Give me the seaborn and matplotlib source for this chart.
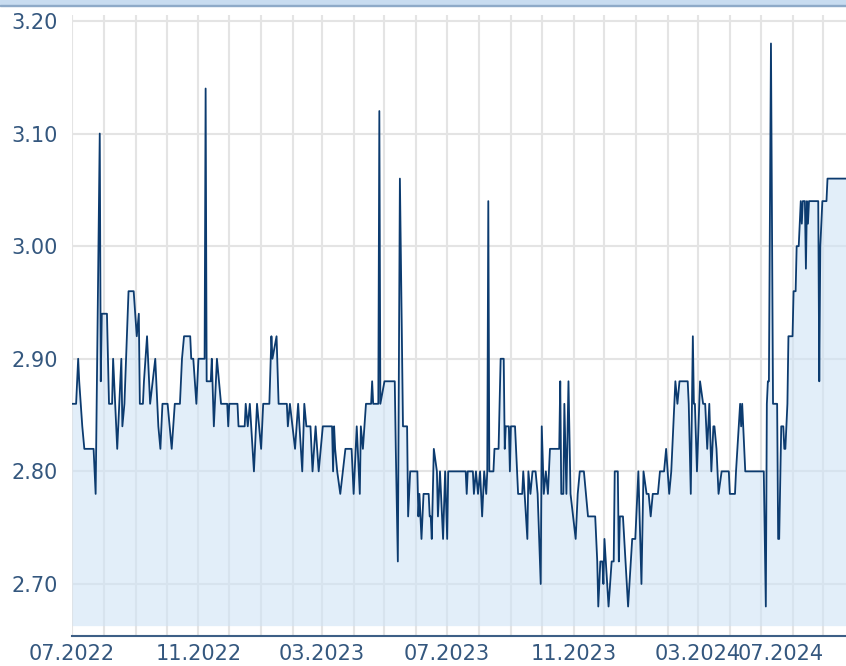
import pandas as pd
import matplotlib.pyplot as plt
import matplotlib.dates as mdates
from matplotlib.ticker import FormatStrFormatter
from matplotlib.patches import Rectangle
import seaborn as sns

# Series: days counted from the first point, and the value
start_date = "2022-07-01"

day_offset = [
    0, 4, 6, 7, 10, 12, 21, 23, 25, 27, 28, 29, 34, 36, 39, 40, 44, 46, 48, 49,
    51, 55, 60, 63, 65, 66, 69, 70, 73, 76, 81, 84, 86, 88, 93, 97, 100, 105, 107, 109,
    115, 116, 118, 121, 123, 129, 130, 131,
    135, 136, 138, 141, 145, 151, 152, 153, 161, 162, 168, 169, 171, 173, 177, 180, 184, 186, 192, 194,
    195, 199, 201, 209, 210, 212, 217, 220, 224, 226, 228, 232, 234, 237, 240, 244, 253, 254,
    255, 256, 258, 261, 266, 272, 274, 277, 280, 281, 283, 286, 291, 292, 293, 298, 299, 300, 304, 314,
    315, 317, 319, 322, 326, 327, 329, 336, 337, 338, 340, 342, 347, 348, 349, 350, 352, 355, 356, 358,
    361, 363, 365, 366, 383,
    384, 385, 390, 391, 393, 395, 397, 399, 401, 403, 404, 405, 406, 410, 411, 415, 417, 420, 421, 422,
    425, 426, 427, 431, 433, 434, 438, 439, 443, 444, 446, 448, 451, 453, 456, 457, 459, 461, 463, 465,
    474, 475, 476, 478, 479, 481, 483, 485, 490, 492, 494, 498, 502, 509,
    511, 512, 514, 516, 517, 518, 522, 525, 527, 528, 531, 532, 533, 536, 541, 545, 548, 551, 554, 556,
    559, 561, 563, 565, 570, 572, 576, 578, 581, 583, 587, 589, 591, 599, 600, 602, 604, 605, 606, 608,
    611, 614, 616, 618, 620, 622, 624, 625, 627, 629, 632, 636,
    639, 640, 645, 646, 650, 651, 652, 655, 673, 675, 676, 677, 678, 680, 682, 686, 687, 688, 690, 692,
    693, 694, 696, 697, 701, 702, 704, 705, 707, 708, 709, 710, 711, 713, 714, 715, 716, 717, 726, 727,
    728, 730, 734, 735, 753,
]

rate = [
    2.86, 2.86, 2.90, 2.88, 2.84, 2.82, 2.82, 2.78, 2.94, 3.10, 2.88, 2.94, 2.94, 2.86, 2.86, 2.90, 2.82, 2.86, 2.90, 2.84,
    2.86, 2.96, 2.96, 2.92, 2.94, 2.86, 2.86, 2.88, 2.92, 2.86, 2.90, 2.84, 2.82, 2.86, 2.86, 2.82, 2.86, 2.86, 2.90, 2.92,
    2.92, 2.90, 2.90, 2.86, 2.90, 2.90, 3.14, 2.88,
    2.88, 2.90, 2.84, 2.90, 2.86, 2.86, 2.84, 2.86, 2.86, 2.84, 2.84, 2.86, 2.84, 2.86, 2.80, 2.86, 2.82, 2.86, 2.86, 2.92,
    2.90, 2.92, 2.86, 2.86, 2.84, 2.86, 2.82, 2.86, 2.80, 2.86, 2.84, 2.84, 2.80, 2.84, 2.80, 2.84, 2.84, 2.80,
    2.84, 2.82, 2.80, 2.78, 2.82, 2.82, 2.78, 2.84, 2.78, 2.84, 2.82, 2.86, 2.86, 2.88, 2.86, 2.86, 3.12, 2.86, 2.88, 2.88,
    2.82, 2.72, 3.06, 2.84, 2.84, 2.76, 2.80, 2.80, 2.76, 2.78, 2.74, 2.78, 2.78, 2.76, 2.76, 2.74, 2.82, 2.80, 2.76, 2.80,
    2.74, 2.80, 2.74, 2.80, 2.80,
    2.78, 2.80, 2.80, 2.78, 2.80, 2.78, 2.80, 2.76, 2.80, 2.78, 2.80, 3.04, 2.80, 2.80, 2.82, 2.82, 2.90, 2.90, 2.82, 2.84,
    2.84, 2.80, 2.84, 2.84, 2.80, 2.78, 2.78, 2.80, 2.74, 2.80, 2.78, 2.80, 2.80, 2.78, 2.70, 2.84, 2.78, 2.80, 2.78, 2.82,
    2.82, 2.88, 2.78, 2.78, 2.86, 2.78, 2.88, 2.78, 2.74, 2.78, 2.80, 2.80, 2.76, 2.76,
    2.72, 2.68, 2.72, 2.72, 2.70, 2.74, 2.68, 2.72, 2.72, 2.80, 2.80, 2.72, 2.76, 2.76, 2.68, 2.74, 2.74, 2.80, 2.70, 2.80,
    2.78, 2.78, 2.76, 2.78, 2.78, 2.80, 2.80, 2.82, 2.78, 2.80, 2.88, 2.86, 2.88, 2.88, 2.86, 2.78, 2.92, 2.86, 2.86, 2.80,
    2.88, 2.86, 2.86, 2.82, 2.86, 2.80, 2.84, 2.84, 2.82, 2.78, 2.80, 2.80,
    2.80, 2.78, 2.78, 2.80, 2.86, 2.84, 2.86, 2.80, 2.80, 2.68, 2.86, 2.88, 2.88, 3.18, 2.86, 2.86, 2.74, 2.74, 2.84, 2.84,
    2.82, 2.82, 2.86, 2.92, 2.92, 2.96, 2.96, 3.00, 3.00, 3.02, 3.04, 3.02, 3.04, 3.04, 2.98, 3.04, 3.02, 3.04, 3.04, 2.88,
    3.00, 3.04, 3.04, 3.06, 3.06,
]

y_ticks = [2.70, 2.80, 2.90, 3.00, 3.10, 3.20]
fill_base = 2.663

df = pd.DataFrame({
    "Date": pd.to_datetime(start_date) + pd.to_timedelta(day_offset, unit="D"),
    "Rate": rate,
})

sns.set_theme(style="whitegrid")
plt.rcParams['font.family'] = ['DejaVu Sans']

text_color = '#34577e'
grid_color = '#e4e4e4'

fig = plt.figure(figsize=(8.46, 6.66), dpi=100)
ax = fig.add_axes([72 / 846, 30 / 666, 774 / 846, 621 / 666])

# light area under the line, a bit transparent so the grid shows through
ax.fill_between(df['Date'], df['Rate'], fill_base, color='#cfe3f5', alpha=0.6, lw=0, zorder=1)
sns.lineplot(data=df, x='Date', y='Rate', color='#0c3b6f', lw=1.3, ax=ax, zorder=3)

ax.set_xlim(df['Date'].iloc[0], df['Date'].iloc[-1])
ax.set_ylim(2.6538, 3.2053)
ax.set_yticks(y_ticks)
ax.yaxis.set_major_formatter(FormatStrFormatter('%.2f'))

ax.xaxis.set_major_locator(mdates.MonthLocator(bymonth=[3, 7, 11]))
ax.xaxis.set_minor_locator(mdates.MonthLocator())
ax.xaxis.set_major_formatter(mdates.DateFormatter('%m.%Y'))

ax.grid(True, which='both', axis='x', color=grid_color, lw=1.5)
ax.grid(True, which='major', axis='y', color=grid_color, lw=1.5)
ax.set_axisbelow(True)

ax.set_xlabel('')
ax.set_ylabel('')
ax.set_facecolor('white')
for side in ['left', 'right', 'top']:
    ax.spines[side].set_visible(False)
ax.spines['bottom'].set_color('#3d5f86')
ax.spines['bottom'].set_linewidth(1.5)

ax.tick_params(axis='both', which='both', length=0, labelsize=15, colors=text_color)
ax.tick_params(axis='y', pad=10)
ax.tick_params(axis='x', pad=6)

# thin blue band along the top edge
fig.patches.append(Rectangle((0, 1 - 5 / 666), 1, 5 / 666, transform=fig.transFigure,
                             color='#c8dcf0', zorder=0))
fig.patches.append(Rectangle((0, 1 - 6 / 666), 1, 1.5 / 666, transform=fig.transFigure,
                             color='#8eaac8', zorder=0))

fig.canvas.draw()
for lbl in ax.get_xticklabels():
    if lbl.get_text() == '07.2024':
        lbl.set_horizontalalignment('right')

plt.savefig('out.png', dpi=100)
plt.close()
